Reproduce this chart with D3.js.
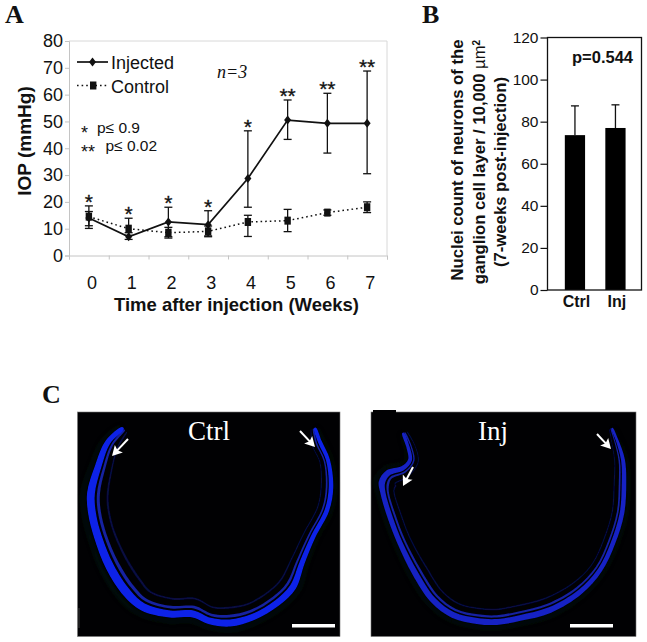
<!DOCTYPE html>
<html>
<head>
<meta charset="utf-8">
<script src="https://cdn.jsdelivr.net/npm/d3@7"></script>
<style>
 html, body { margin: 0; padding: 0; background: #fff; }
 svg { display: block; }
 text { font-family: "Liberation Sans", Arial, sans-serif; fill: #111; }
 .serif { font-family: "Liberation Serif", "Times New Roman", serif; }
</style>
</head>
<body>
<svg id="fig" width="647" height="642"></svg>
<script>
 // panel A values
 const weeks = [0, 1, 2, 3, 4, 5, 6, 7];
 const injected = [14, 7, 12.5, 11.5, 28.7, 50.5, 49.3, 49.3];
 const injectedHigh = [18.5, 8.5, 18, 16.7, 46.5, 58, 60.5, 68.8];
 const injectedLow = [10.1, 6, 7, 7, 18, 43.3, 38.2, 30.5];
 const control = [14.5, 10, 8.5, 9, 12.5, 13, 16, 18];
 const controlHigh = [16.4, 13.9, 10.5, 11, 15, 17.2, 17, 20];
 const controlLow = [11.1, 7.5, 6.5, 7.3, 7.1, 8.9, 15, 16];
 const stars = ["*", "*", "*", "*", "*", "**", "**", "**"];
 const iopTicks = [0, 10, 20, 30, 40, 50, 60, 70, 80];

 // panel B values
 const groups = ["Ctrl", "Inj"];
 const nuclei = [73.6, 77];
 const nucleiHigh = [87.5, 88];
 const nucleiTicks = [0, 20, 40, 60, 80, 100, 120];

 // panel C micrographs, traced outlines as [x, y, thickness] in page pixels
 const ctrlRetina = [[123,428,2],[108,442,4],[98,467,5],[91,493,6],[92,513,6],[98,537,6],[110,567,6.5],[127,593,6.5],[143,607,6],[170,614,5.5],[193,614,5.5],[210,621,5],[230,623,5.5],[253,617,5],[277,603,5],[293,587,5],[302,563,4],[313,537,3.5],[327,510,3.5],[331,487,3.5],[328,460,3],[320,442,3],[315,428,1.5]];
 const injRetina = [[403,433,1.5],[408,447,2.5],[410,460,3],[403,468,3.5],[388,473,4.5],[382,482,5],[383,493,4],[390,517,4],[400,543,4],[415,573,4.5],[433,600,4.5],[453,615,4.5],[477,621,4.5],[497,622,4.5],[520,618,4.5],[550,610,4.5],[580,592,4],[600,570,3.5],[613,543,3.5],[622,513,3.5],[624,483,3.5],[623,460,3],[617,440,2],[612,428,1]];
 const arrows = [[[128,439],[112,456]], [[300,431],[315,447]], [[413,467],[403,486]], [[597,434],[611,449]]];

 const svg = d3.select("#fig");
 const inkBlack = "#111";
 const axisGrey = "#c4c4c4";

 // panel letters
 [["A", 5, 23], ["B", 422, 23], ["C", 42, 403]].forEach(d => {
     svg.append("text").attr("class", "serif").attr("x", d[1]).attr("y", d[2])
         .attr("font-size", 26).attr("font-weight", "bold").text(d[0]);
 });

 // ---------- panel A ----------
 const a = { left: 69, right: 387, top: 41, bottom: 255.5 };
 const xA = d3.scaleBand().domain(weeks).range([a.left, a.right]);
 const xEdges = d3.scaleLinear().domain([0, 8]).range([a.left, a.right]);
 const yA = d3.scaleLinear().domain([0, 80]).range([a.bottom, a.top]);
 const cx = w => xA(w) + xA.bandwidth() / 2;

 // plot frame, top and right only
 svg.append("path")
     .attr("d", `M${a.left},${a.top}H${a.right}V${a.bottom}`)
     .attr("fill", "none").attr("stroke", "#d8d8d8").attr("stroke-width", 1);

 const yAxisA = svg.append("g").attr("transform", `translate(${a.left},0)`)
     .call(d3.axisLeft(yA).tickValues(iopTicks).tickSize(4).tickPadding(2));
 const xEdgeAxis = svg.append("g").attr("transform", `translate(0,${a.bottom})`)
     .call(d3.axisBottom(xEdges).ticks(8).tickSize(4).tickFormat(""));
 const xAxisA = svg.append("g").attr("transform", `translate(3,${a.bottom})`)
     .call(d3.axisBottom(xA).tickSize(0).tickPadding(21));
 xAxisA.select(".domain").remove();
 [yAxisA, xEdgeAxis].forEach(g => g.selectAll("line, .domain").attr("stroke", axisGrey));
 [yAxisA, xAxisA].forEach(g => g.selectAll("text").attr("font-size", 18)
     .attr("font-family", "Liberation Sans").attr("fill", "#111"));

 const lineOf = d3.line().x((d, i) => cx(weeks[i])).y(d => yA(d));

 svg.append("path").datum(control).attr("d", lineOf).attr("fill", "none")
     .attr("stroke", inkBlack).attr("stroke-width", 1.5).attr("stroke-dasharray", "1.6,3");
 svg.append("path").datum(injected).attr("d", lineOf).attr("fill", "none")
     .attr("stroke", inkBlack).attr("stroke-width", 1.7);

 function errorBars(high, low) {
     const g = svg.append("g").attr("stroke", inkBlack).attr("stroke-width", 1.3);
     weeks.forEach((w, i) => {
         g.append("line").attr("x1", cx(w)).attr("x2", cx(w)).attr("y1", yA(high[i])).attr("y2", yA(low[i]));
         [high[i], low[i]].forEach(v => {
             g.append("line").attr("x1", cx(w) - 4).attr("x2", cx(w) + 4).attr("y1", yA(v)).attr("y2", yA(v));
         });
     });
 }
 errorBars(injectedHigh, injectedLow);
 errorBars(controlHigh, controlLow);

 const diamond = "M0,-4.5L3.5,0L0,4.5L-3.5,0Z";
 svg.selectAll("path.inj").data(injected).enter().append("path").attr("class", "inj")
     .attr("d", diamond).attr("fill", inkBlack)
     .attr("transform", (d, i) => `translate(${cx(weeks[i])},${yA(d)})`);
 svg.selectAll("rect.ctl").data(control).enter().append("rect").attr("class", "ctl")
     .attr("x", (d, i) => cx(weeks[i]) - 3.2).attr("y", d => yA(d) - 4)
     .attr("width", 6.4).attr("height", 8).attr("fill", inkBlack);

 // significance stars sit just over the higher whisker
 svg.selectAll("text.star").data(stars).enter().append("text").attr("class", "star")
     .attr("x", (d, i) => cx(weeks[i])).attr("y", (d, i) => yA(Math.max(injectedHigh[i], controlHigh[i])) + 3)
     .attr("text-anchor", "middle").attr("font-size", 21)
     .attr("stroke", "#111").attr("stroke-width", 0.3).text(d => d);

 svg.append("text").attr("x", 236.5).attr("y", 311).attr("text-anchor", "middle")
     .attr("font-size", 18.5).attr("font-weight", "bold").text("Time after injection (Weeks)");
 svg.append("text").attr("transform", "translate(31,141) rotate(-90)").attr("text-anchor", "middle")
     .attr("font-size", 19).attr("font-weight", "bold").text("IOP (mmHg)");

 // legend
 svg.append("line").attr("x1", 77).attr("x2", 108).attr("y1", 62).attr("y2", 62)
     .attr("stroke", inkBlack).attr("stroke-width", 1.7);
 svg.append("path").attr("d", diamond).attr("fill", inkBlack).attr("transform", "translate(92.5,62)");
 svg.append("line").attr("x1", 77).attr("x2", 108).attr("y1", 85.5).attr("y2", 85.5)
     .attr("stroke", inkBlack).attr("stroke-width", 1.5).attr("stroke-dasharray", "1.6,3");
 svg.append("rect").attr("x", 90).attr("y", 81.5).attr("width", 6.4).attr("height", 8).attr("fill", inkBlack);
 svg.append("text").attr("x", 111).attr("y", 69).attr("font-size", 18).text("Injected");
 svg.append("text").attr("x", 111).attr("y", 93).attr("font-size", 18).text("Control");

 svg.append("text").attr("class", "serif").attr("x", 217).attr("y", 78)
     .attr("font-size", 18).attr("font-style", "italic").text("n=3");

 svg.append("text").attr("x", 81).attr("y", 139).attr("font-size", 18).text("*");
 svg.append("text").attr("x", 97).attr("y", 132.5).attr("font-size", 15.5).text("p≤ 0.9");
 svg.append("text").attr("x", 81).attr("y", 158).attr("font-size", 18).text("**");
 svg.append("text").attr("x", 105.5).attr("y", 151).attr("font-size", 15.5).text("p≤ 0.02");

 // ---------- panel B ----------
 const b = { left: 547.5, right: 641.5, top: 37.5, bottom: 290 };
 const xB = d3.scaleBand().domain(groups).range([554.7, 635.7]).paddingInner(0.5).paddingOuter(0.25);
 const yB = d3.scaleLinear().domain([0, 120]).range([b.bottom, b.top]);

 svg.selectAll("rect.bar").data(groups).enter().append("rect").attr("class", "bar")
     .attr("x", d => xB(d)).attr("width", xB.bandwidth())
     .attr("y", (d, i) => yB(nuclei[i])).attr("height", (d, i) => yB(0) - yB(nuclei[i]))
     .attr("fill", "#000");
 groups.forEach((g, i) => {
     const mid = xB(g) + xB.bandwidth() / 2;
     svg.append("line").attr("x1", mid).attr("x2", mid).attr("y1", yB(nucleiHigh[i])).attr("y2", yB(nuclei[i]))
         .attr("stroke", "#111").attr("stroke-width", 1.3);
     svg.append("line").attr("x1", mid - 4).attr("x2", mid + 4).attr("y1", yB(nucleiHigh[i])).attr("y2", yB(nucleiHigh[i]))
         .attr("stroke", "#111").attr("stroke-width", 1.3);
 });

 svg.append("rect").attr("x", b.left).attr("y", b.top).attr("width", b.right - b.left).attr("height", b.bottom - b.top)
     .attr("fill", "none").attr("stroke", "#111").attr("stroke-width", 1.3);
 const yAxisB = svg.append("g").attr("transform", `translate(${b.left},0)`)
     .call(d3.axisLeft(yB).tickValues(nucleiTicks).tickSize(7).tickPadding(2));
 yAxisB.selectAll("line").attr("stroke", "#111").attr("stroke-width", 1.2);
 yAxisB.select(".domain").remove();
 yAxisB.selectAll("text").attr("font-size", 15.5).attr("font-family", "Liberation Sans").attr("fill", "#222");

 const xAxisB = svg.append("g").attr("transform", `translate(1.5,${b.bottom})`)
     .call(d3.axisBottom(xB).tickSize(0).tickPadding(6));
 xAxisB.select(".domain").remove();
 xAxisB.selectAll("text").attr("font-size", 16).attr("font-weight", "bold")
     .attr("font-family", "Liberation Sans").attr("fill", "#111");

 svg.append("text").attr("x", 572).attr("y", 63).attr("font-size", 16.5).attr("font-weight", "bold").text("p=0.544");

 const lab1 = svg.append("text").attr("transform", "translate(463,160) rotate(-90)").attr("text-anchor", "middle")
     .attr("font-size", 16.7).attr("font-weight", "bold").text("Nuclei count of neurons of the");
 const lab2 = svg.append("text").attr("transform", "translate(484.5,162) rotate(-90)").attr("text-anchor", "middle")
     .attr("font-size", 16.7).attr("font-weight", "bold");
 lab2.append("tspan").text("ganglion cell layer / 10,000 ");
 lab2.append("tspan").attr("font-weight", "normal").text("µm");
 lab2.append("tspan").attr("font-size", 10).attr("dy", -5).text("2");
 const lab3 = svg.append("text").attr("transform", "translate(505.5,172) rotate(-90)").attr("text-anchor", "middle")
     .attr("font-size", 16.7).attr("font-weight", "bold").text("(7-weeks post-injection)");

 // ---------- panel C ----------
 const defs = svg.append("defs");
 defs.append("filter").attr("id", "soft").attr("x", "-10%").attr("y", "-10%").attr("width", "120%").attr("height", "120%")
     .append("feGaussianBlur").attr("stdDeviation", 0.6);
 defs.append("filter").attr("id", "haze").attr("x", "-10%").attr("y", "-10%").attr("width", "120%").attr("height", "120%")
     .append("feGaussianBlur").attr("stdDeviation", 2);

 // turn a traced centre line into a closed ribbon, shifted inwards by off * thickness
 function ribbon(pts, off, scale) {
     const left = [], right = [];
     pts.forEach((p, i) => {
         const p0 = pts[Math.max(i - 1, 0)], p1 = pts[Math.min(i + 1, pts.length - 1)];
         const dx = p1[0] - p0[0], dy = p1[1] - p0[1], len = Math.hypot(dx, dy);
         const nx = -dy / len, ny = dx / len; // pts run left to right along the bottom, so this points inside
         const c = [p[0] - nx * off * p[2], p[1] - ny * off * p[2]];
         left.push([c[0] + nx * p[2] * scale / 2, c[1] + ny * p[2] * scale / 2]);
         right.push([c[0] - nx * p[2] * scale / 2, c[1] - ny * p[2] * scale / 2]);
     });
     return d3.line().curve(d3.curveCatmullRomClosed)(left.concat(right.reverse()));
 }

 function micrograph(box, pts, main, label, labelX, barX) {
     svg.append("rect").attr("x", box[0]).attr("y", box[1]).attr("width", box[2]).attr("height", box[3])
         .attr("fill", "#010103").attr("stroke", "#777").attr("stroke-width", 0.6);
     const g = svg.append("g");
     g.append("path").attr("d", ribbon(pts, -1.3, 0.5)).attr("fill", "#041c14").attr("filter", "url(#haze)").attr("opacity", 0.7);
     g.append("path").attr("d", ribbon(pts, 2.8, 0.35)).attr("fill", "#070a40").attr("filter", "url(#soft)");
     g.append("path").attr("d", ribbon(pts, 1.25, 0.5)).attr("fill", "#1420a0").attr("filter", "url(#soft)");
     g.append("path").attr("d", ribbon(pts, 0, 1.3)).attr("fill", main).attr("filter", "url(#soft)");
     svg.append("text").attr("class", "serif").attr("x", labelX).attr("y", 440)
         .attr("font-size", 27).style("fill", "#fff").text(label);
     svg.append("rect").attr("x", barX).attr("y", box[1] + box[3] - 12.5).attr("width", 43).attr("height", 3.5).attr("fill", "#fff");
 }

 micrograph([77.5, 412, 262.5, 224.5], ctrlRetina, "#0b22e8", "Ctrl", 188, 292);
 micrograph([371, 412, 265, 224.5], injRetina, "#1420c4", "Inj", 478, 570);
 svg.append("rect").attr("x", 373).attr("y", 410).attr("width", 23).attr("height", 3).attr("fill", "#010103");
 svg.append("line").attr("x1", 79).attr("x2", 79).attr("y1", 608).attr("y2", 628).attr("stroke", "#555").attr("stroke-width", 0.7);

 arrows.forEach(d => {
     const [t, h] = d;
     const ang = Math.atan2(h[1] - t[1], h[0] - t[0]);
     const g = svg.append("g").attr("transform", `translate(${h[0]},${h[1]}) rotate(${ang * 180 / Math.PI})`);
     const len = Math.hypot(h[0] - t[0], h[1] - t[1]);
     g.append("line").attr("x1", -len).attr("x2", -6).attr("y1", 0).attr("y2", 0).attr("stroke", "#fff").attr("stroke-width", 2);
     g.append("path").attr("d", "M0,0L-10,-5.5L-8,0L-10,5.5Z").attr("fill", "#fff");
 });
</script>
</body>
</html>
